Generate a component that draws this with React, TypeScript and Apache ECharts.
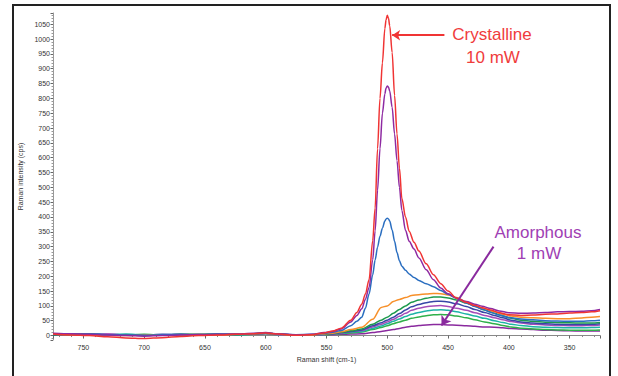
import React, { useEffect, useRef } from "react";
import * as echarts from "echarts";

// Raman shift positions (cm-1) for the peaked spectra
const shiftPeak = [775, 760, 745, 730, 715, 700, 685, 670, 655, 640, 625, 610, 600, 590, 575, 562,
  552, 545, 538, 530, 525, 521, 518, 515, 512, 510,
  508, 506, 504, 502, 501, 500, 499, 498, 496, 494, 492, 490,
  488, 485, 482, 478, 474, 468, 462, 456, 450, 443,
  435, 428, 422, 415, 408, 400, 390, 380, 370, 360,
  350, 340, 332, 325];

const crystal10mW = [5, 2, 0, -4, -8, -10, -7, -3, 0, 2, 4, 6, 9, 5, 1, 3,
  9, 15, 25, 52, 78, 106, 140, 188, 320, 430,
  630, 800, 920, 1035, 1065, 1080, 1070, 1045, 955, 810, 680, 565,
  462, 400, 352, 315, 285, 242, 205, 175, 150, 126,
  112, 101, 94, 86, 77, 70, 68, 69, 72, 73,
  76, 78, 80, 84];

const peakPurple = [8, 6, 4, 2, 0, -2, 0, 2, 3, 4, 5, 8, 10, 6, 2, 4,
  10, 14, 22, 46, 68, 90, 122, 162, 255, 353,
  490, 630, 750, 815, 835, 842, 838, 825, 770, 680, 590, 500,
  422, 355, 318, 292, 262, 222, 188, 160, 141, 126,
  115, 106, 99, 91, 83, 77, 75, 76, 78, 80,
  81, 82, 84, 88];

const peakBlue = [6, 4, 5, 3, 2, 1, 3, 4, 2, 5, 4, 6, 9, 5, 3, 4,
  7, 11, 17, 33, 48, 62, 92, 140, 205, 255,
  298, 335, 362, 386, 393, 396, 393, 386, 356, 318, 280, 252,
  234, 220, 208, 196, 186, 175, 165, 152, 139, 126,
  110, 98, 89, 79, 69, 61, 56, 53, 50, 49,
  48, 48, 50, 52];

// Raman shift positions (cm-1) for the broad (amorphous) spectra
const shiftBroad = [775, 760, 745, 730, 715, 700, 685, 670, 655, 640, 625, 610, 600, 590, 575, 562,
  552, 545, 538, 530, 521, 512, 505, 500, 495, 490,
  485, 480, 474, 468, 462, 456, 450, 443, 435, 428,
  420, 412, 405, 398, 390, 380, 370, 360, 350, 340,
  332, 325];

const broadOrange = [4, 3, 2, 1, 0, 2, 1, 2, 3, 2, 4, 5, 8, 4, 1, 2,
  5, 8, 13, 20, 28, 55, 95, 100, 115, 122,
  128, 135, 138, 140, 142, 141, 137, 128, 114, 101,
  90, 80, 72, 66, 62, 60, 58, 57, 57, 59,
  62, 64];

const broadGreen = [3, 5, 4, 2, 3, 1, 2, 4, 3, 5, 3, 6, 9, 5, 2, 3,
  5, 7, 11, 16, 22, 38, 52, 62, 75, 88,
  100, 112, 120, 126, 130, 130, 127, 120, 110, 99,
  86, 75, 66, 58, 52, 48, 45, 44, 43, 42,
  42, 44];

const broadNavy = [2, 3, 5, 3, 1, 2, 4, 3, 1, 3, 5, 4, 8, 4, 2, 1,
  4, 6, 10, 14, 19, 33, 43, 52, 62, 74,
  86, 97, 105, 111, 115, 116, 113, 107, 98, 88,
  78, 68, 60, 52, 46, 42, 40, 38, 37, 37,
  38, 40];

const broadViolet = [5, 4, 3, 5, 2, 3, 1, 3, 4, 2, 3, 5, 7, 3, 1, 2,
  3, 5, 9, 13, 17, 29, 38, 46, 55, 65,
  75, 85, 92, 97, 100, 101, 98, 92, 85, 77,
  68, 60, 53, 47, 42, 38, 36, 34, 33, 33,
  34, 36];

const broadTeal = [3, 2, 4, 3, 5, 2, 3, 1, 3, 4, 2, 4, 7, 3, 2, 1,
  3, 5, 8, 11, 14, 24, 32, 40, 48, 56,
  64, 72, 78, 83, 86, 87, 85, 80, 73, 66,
  58, 50, 44, 38, 34, 30, 28, 27, 26, 26,
  27, 28];

const broadLightGreen = [2, 4, 3, 1, 2, 4, 2, 3, 5, 3, 2, 4, 6, 3, 1, 2,
  2, 4, 7, 9, 12, 20, 27, 33, 40, 46,
  52, 58, 63, 67, 70, 71, 70, 66, 60, 53,
  46, 40, 34, 29, 25, 22, 20, 19, 18, 18,
  18, 19];

const amorphous1mW = [6, 5, 3, 4, 1, 3, 2, 4, 2, 3, 4, 6, 8, 4, 2, 3,
  2, 3, 4, 5, 6, 10, 14, 17, 20, 24,
  28, 31, 34, 36, 37, 37, 36, 35, 33, 31,
  29, 28, 26, 24, 22, 20, 18, 17, 16, 15,
  15, 15];

// annotation arrows in data coordinates [shift, intensity]
const crystalArrow = [[453, 1013], [496, 1013]];
const amorphArrow = [[412.6, 300], [455.4, 34]];

const pair = (xs: number[], ys: number[]) => xs.map((x, i) => [x, ys[i]]);

export default function App() {
  const ref = useRef<HTMLDivElement>(null);
  useEffect(() => {
    if (!ref.current) return;
    const chart = echarts.init(ref.current, undefined, { renderer: "svg" });
    const font = "Liberation Sans";
    const line = (name: string, xs: number[], ys: number[], color: string, extra: any = {}) => ({
      type: "line",
      name,
      data: pair(xs, ys),
      showSymbol: false,
      symbol: "none",
      smooth: 0.3,
      smoothMonotone: "x",
      lineStyle: { color, width: 1.5 },
      itemStyle: { color },
      z: 2,
      ...extra,
    });
    const fmt = (v: number) => (Math.abs(v % 50) < 1e-6 ? String(v) : "");
    chart.setOption({
      animation: false,
      backgroundColor: "#fff",
      grid: { left: 53, right: 18, top: 13, bottom: 36 },
      xAxis: {
        type: "value",
        inverse: true,
        min: 325,
        max: 775,
        splitNumber: 9,
        name: "Raman shift (cm-1)",
        nameLocation: "middle",
        nameGap: 14,
        nameTextStyle: { fontSize: 7, color: "#333", fontFamily: font },
        axisLine: { show: true, lineStyle: { color: "#888", width: 1 } },
        axisTick: { show: true, length: 3, lineStyle: { color: "#666" } },
        minorTick: { show: true, splitNumber: 5, length: 1.5, lineStyle: { color: "#888" } },
        splitLine: { show: false },
        axisLabel: { fontSize: 7, color: "#333", fontFamily: font, margin: 4, formatter: fmt },
      },
      yAxis: {
        type: "value",
        min: -15,
        max: 1088,
        splitNumber: 22,
        name: "Raman intensity (cps)",
        nameLocation: "middle",
        nameRotate: 90,
        nameGap: 24,
        nameTextStyle: { fontSize: 7, color: "#333", fontFamily: font },
        axisLine: { show: true, lineStyle: { color: "#999", width: 1 } },
        axisTick: { show: true, length: 2.5, lineStyle: { color: "#666" } },
        minorTick: { show: true, splitNumber: 5, length: 1.5, lineStyle: { color: "#999" } },
        splitLine: { show: false },
        axisLabel: { fontSize: 7, color: "#333", fontFamily: font, margin: 3, formatter: fmt },
      },
      series: [
        line("amorphous 1 mW", shiftBroad, amorphous1mW, "#8a2a9e", {
          markLine: {
            silent: true,
            symbol: ["none", "arrow"],
            symbolSize: 9,
            label: { show: false },
            lineStyle: { color: "#8a2a9e", width: 2, type: "solid" },
            data: [[{ coord: amorphArrow[0] }, { coord: amorphArrow[1] }]],
          },
        }),
        line("light green", shiftBroad, broadLightGreen, "#2fb04a"),
        line("teal", shiftBroad, broadTeal, "#1db3a6"),
        line("violet", shiftBroad, broadViolet, "#a44cb8"),
        line("navy", shiftBroad, broadNavy, "#3646a6"),
        line("green", shiftBroad, broadGreen, "#1c9a4c"),
        line("orange", shiftBroad, broadOrange, "#f7902a"),
        line("blue", shiftPeak, peakBlue, "#2a6ec0"),
        line("purple", shiftPeak, peakPurple, "#8e2aa2"),
        line("crystalline 10 mW", shiftPeak, crystal10mW, "#f03434", {
          z: 3,
          markLine: {
            silent: true,
            symbol: ["none", "arrow"],
            symbolSize: 8,
            label: { show: false },
            lineStyle: { color: "#f03434", width: 2, type: "solid" },
            data: [[{ coord: crystalArrow[0] }, { coord: crystalArrow[1] }]],
          },
        }),
      ],
      graphic: [
        {
          type: "rect",
          shape: { x: 13, y: 5, width: 597, height: 400 },
          style: { fill: "none", stroke: "#222", lineWidth: 2 },
          silent: true,
        },
        {
          type: "text",
          x: 492,
          y: 34,
          style: { text: "Crystalline", fill: "#f03c3c", font: `17px "${font}"`, align: "center", verticalAlign: "middle" },
        },
        {
          type: "text",
          x: 493,
          y: 57,
          style: { text: "10 mW", fill: "#f03c3c", font: `17px "${font}"`, align: "center", verticalAlign: "middle" },
        },
        {
          type: "text",
          x: 538,
          y: 232,
          style: { text: "Amorphous", fill: "#a040b4", font: `17px "${font}"`, align: "center", verticalAlign: "middle" },
        },
        {
          type: "text",
          x: 539,
          y: 253,
          style: { text: "1 mW", fill: "#a040b4", font: `17px "${font}"`, align: "center", verticalAlign: "middle" },
        },
      ],
    });
    return () => chart.dispose();
  }, []);
  return (
    <div
      ref={ref}
      style={{ position: "fixed", left: 0, top: 0, width: 618, height: 376, background: "#fff" }}
    />
  );
}
